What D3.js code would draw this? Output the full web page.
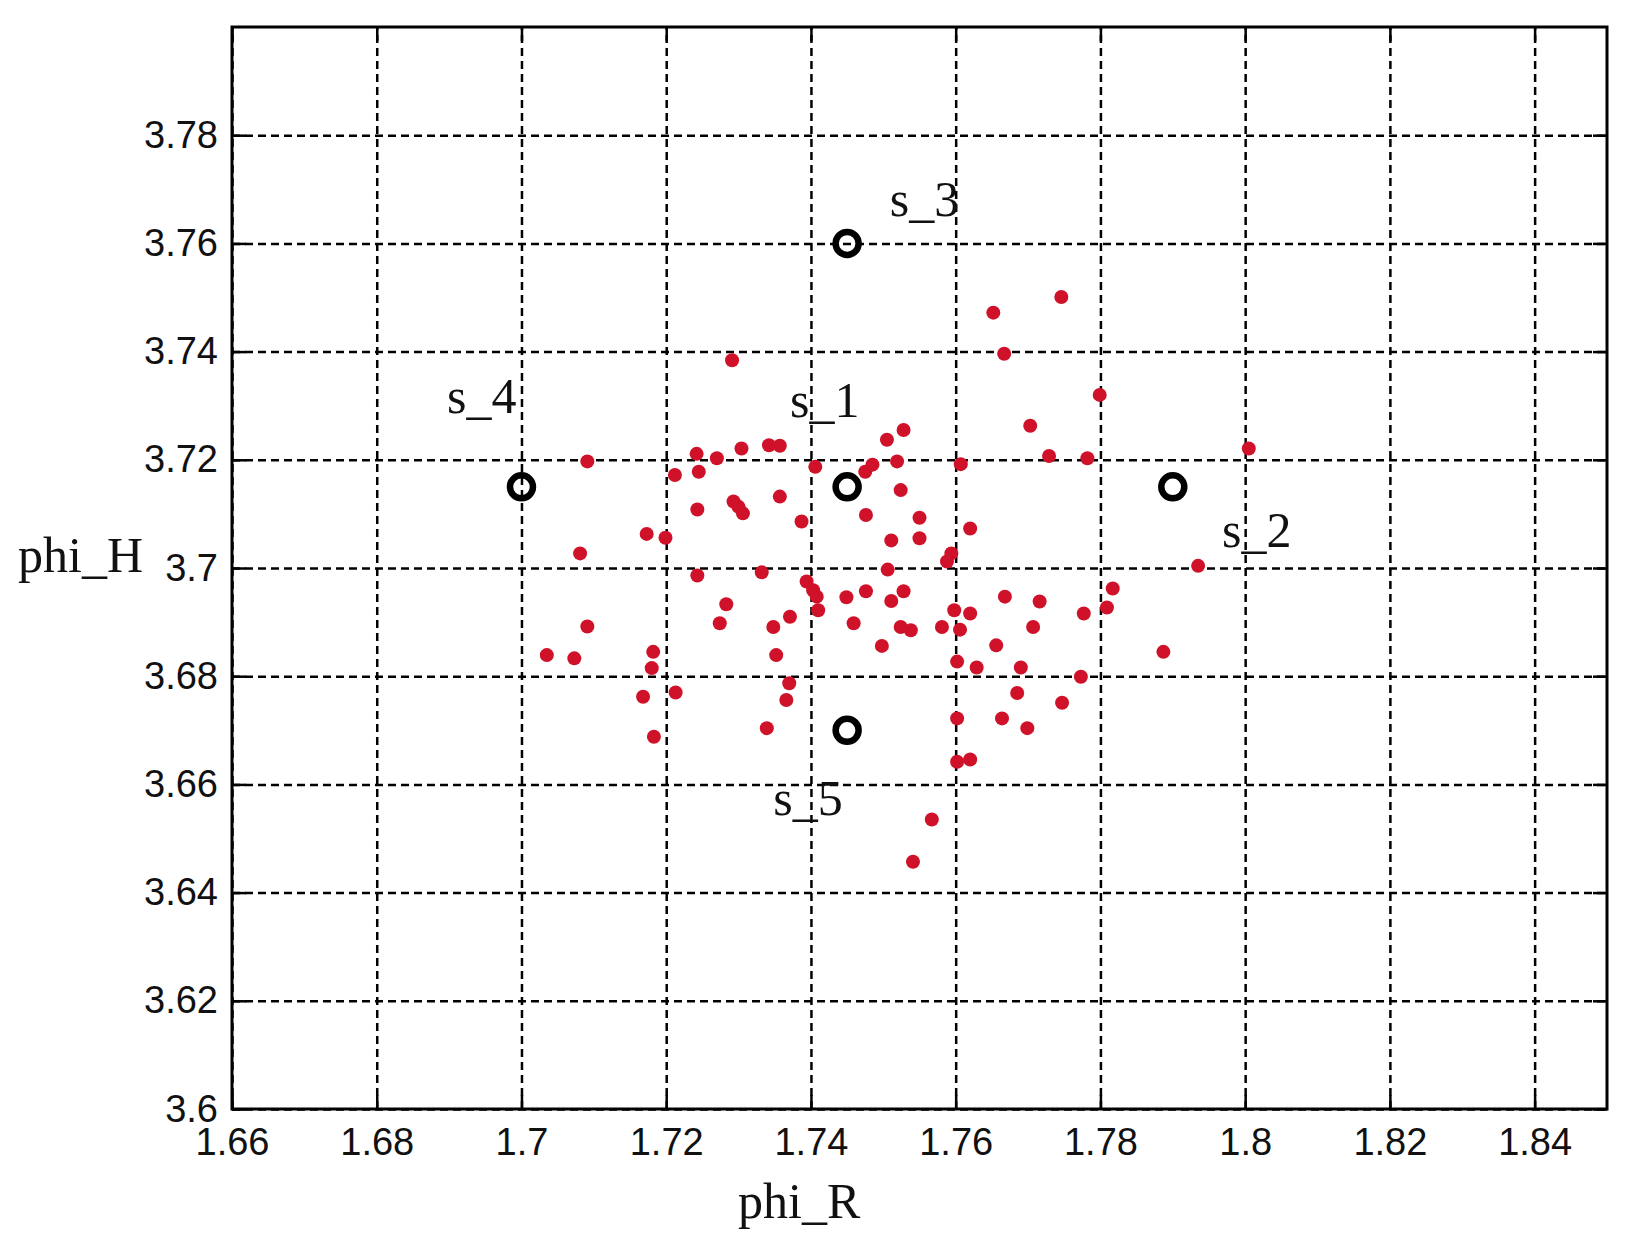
<!DOCTYPE html>
<html>
<head>
<meta charset="utf-8">
<script src="https://cdn.jsdelivr.net/npm/d3@7"></script>
<style>
  body { margin: 0; background: #fff; }
  .grid line { stroke: #000; stroke-width: 2.5; stroke-dasharray: 8,5; }
  .grid path { display: none; }
  .ticks line { stroke: #000; stroke-width: 2.5; }
  .ticks path { display: none; }
  .ticks text { font-family: "Liberation Sans", Arial, sans-serif; font-size: 38px; fill: #111; }
  .lbl { font-family: "Liberation Serif", "Times New Roman", serif; font-size: 50px; fill: #111; }
</style>
</head>
<body>
<div id="scatter"></div>
<script>
// page size, same as the picture
var svgWidth = 1637;
var svgHeight = 1255;

// margins so the box lands where the original one is
var margin = {
        top: 27,
        right: 30,
        bottom: 146,
        left: 232
    },
    width = svgWidth - margin.left - margin.right,
    height = svgHeight - margin.top - margin.bottom;

// the red cloud, phi_R on x and phi_H on y
var phiR = [1.7291, 1.7091, 1.7081, 1.7173, 1.7199, 1.7212, 1.7242, 1.7245, 1.7270, 1.7304,
    1.7342, 1.7357, 1.7243, 1.7293, 1.7300, 1.7306, 1.7357, 1.7387, 1.7406, 1.7475,
    1.7485, 1.7505, 1.7528, 1.7519, 1.7524, 1.7476, 1.7550, 1.7550, 1.7511, 1.7607,
    1.7620, 1.7594, 1.7588, 1.7652, 1.7667, 1.7506, 1.7243, 1.7332, 1.7394, 1.7403,
    1.7408, 1.7410, 1.7283, 1.7274, 1.7348, 1.7371, 1.7352, 1.7370, 1.7366, 1.7339,
    1.7449, 1.7476, 1.7459, 1.7511, 1.7528, 1.7524, 1.7538, 1.7498, 1.7581, 1.7598,
    1.7620, 1.7606, 1.7602, 1.7629, 1.7602, 1.7602, 1.7620, 1.7656, 1.7664, 1.7091,
    1.7035, 1.7073, 1.7182, 1.7180, 1.7168, 1.7213, 1.7183, 1.7567, 1.7541, 1.7746,
    1.7799, 1.7703, 1.7729, 1.7782, 1.8005, 1.7935, 1.7817, 1.7668, 1.7716, 1.7777,
    1.7809, 1.7707, 1.7690, 1.7773, 1.7887, 1.7685, 1.7747, 1.7699];
var phiH = [3.7384, 3.7197, 3.7027, 3.7063, 3.7056, 3.7172, 3.7211, 3.7178, 3.7203, 3.7221,
    3.7227, 3.7226, 3.7108, 3.7123, 3.7113, 3.7101, 3.7132, 3.7086, 3.7187, 3.7178,
    3.7191, 3.7237, 3.7255, 3.7197, 3.7144, 3.7098, 3.7093, 3.7055, 3.7051, 3.7192,
    3.7073, 3.7027, 3.7012, 3.7472, 3.7396, 3.6997, 3.6986, 3.6992, 3.6975, 3.6959,
    3.6947, 3.6922, 3.6933, 3.6898, 3.6891, 3.6910, 3.6839, 3.6787, 3.6756, 3.6704,
    3.6946, 3.6957, 3.6898, 3.6939, 3.6957, 3.6891, 3.6885, 3.6856, 3.6891, 3.6922,
    3.6916, 3.6886, 3.6827, 3.6816, 3.6722, 3.6642, 3.6646, 3.6857, 3.6722, 3.6892,
    3.6839, 3.6833, 3.6845, 3.6815, 3.6762, 3.6770, 3.6688, 3.6535, 3.6457, 3.7501,
    3.7320, 3.7263, 3.7207, 3.7203, 3.7221, 3.7004, 3.6962, 3.6947, 3.6938, 3.6916,
    3.6927, 3.6891, 3.6816, 3.6799, 3.6845, 3.6769, 3.6751, 3.6704];

// the five black reference points and their names
var sNames = ["s_1", "s_2", "s_3", "s_4", "s_5"];
var sR = [1.745, 1.79, 1.745, 1.70, 1.745];
var sH = [3.715, 3.715, 3.76, 3.715, 3.67];
// where each name sits (data units, left end of the baseline)
var sLabelR = [1.7371, 1.7968, 1.7509, 1.6897, 1.7348];
var sLabelH = [3.7279, 3.7039, 3.7651, 3.7287, 3.6543];

// ticks, last one of each axis has no label in the original
var xTicks = [1.66, 1.68, 1.70, 1.72, 1.74, 1.76, 1.78, 1.80, 1.82, 1.84];
var xTickLabels = ["1.66", "1.68", "1.7", "1.72", "1.74", "1.76", "1.78", "1.8", "1.82", "1.84"];
var yTicks = [3.60, 3.62, 3.64, 3.66, 3.68, 3.70, 3.72, 3.74, 3.76, 3.78];
var yTickLabels = ["3.6", "3.62", "3.64", "3.66", "3.68", "3.7", "3.72", "3.74", "3.76", "3.78"];

var chart = d3.select("#scatter")
    .append("svg")
    .attr("width", svgWidth)
    .attr("height", svgHeight)
    .append("g")
    .attr("transform", `translate(${margin.left}, ${margin.top})`);

var x = d3.scaleLinear().domain([1.66, 1.85]).range([0, width]);
var y = d3.scaleLinear().domain([3.60, 3.80]).range([height, 0]);

// dashed grid first so the dots go on top
chart.append("g")
    .attr("class", "grid")
    .attr("transform", `translate(0, ${height})`)
    .call(d3.axisBottom(x).tickValues(xTicks).tickSize(-height).tickFormat(""));
chart.append("g")
    .attr("class", "grid")
    .call(d3.axisLeft(y).tickValues(yTicks).tickSize(-width).tickFormat(""));

// inward ticks on all four sides, labels only bottom and left
chart.append("g")
    .attr("class", "ticks")
    .attr("transform", `translate(0, ${height})`)
    .call(d3.axisBottom(x).tickValues(xTicks).tickSizeInner(-14).tickSizeOuter(0)
        .tickPadding(19).tickFormat((d, i) => xTickLabels[i]));
chart.append("g")
    .attr("class", "ticks")
    .call(d3.axisLeft(y).tickValues(yTicks).tickSizeInner(-14).tickSizeOuter(0)
        .tickPadding(14).tickFormat((d, i) => yTickLabels[i]));
chart.append("g")
    .attr("class", "ticks")
    .call(d3.axisTop(x).tickValues(xTicks).tickSizeInner(-14).tickSizeOuter(0).tickFormat(""));
chart.append("g")
    .attr("class", "ticks")
    .attr("transform", `translate(${width}, 0)`)
    .call(d3.axisRight(y).tickValues(yTicks).tickSizeInner(-14).tickSizeOuter(0).tickFormat(""));

// the box
chart.append("rect")
    .attr("width", width)
    .attr("height", height)
    .attr("fill", "none")
    .attr("stroke", "#000")
    .attr("stroke-width", 3);

// red samples
chart.selectAll("circle.dot")
    .data(d3.range(phiR.length))
    .enter()
    .append("circle")
    .attr("class", "dot")
    .attr("cx", i => x(phiR[i]))
    .attr("cy", i => y(phiH[i]))
    .attr("r", 7)
    .attr("fill", "#cf1229");

// black rings
chart.selectAll("circle.ring")
    .data(d3.range(sNames.length))
    .enter()
    .append("circle")
    .attr("class", "ring")
    .attr("cx", i => x(sR[i]))
    .attr("cy", i => y(sH[i]))
    .attr("r", 11.5)
    .attr("fill", "none")
    .attr("stroke", "#000")
    .attr("stroke-width", 6.5);

chart.selectAll("text.sname")
    .data(d3.range(sNames.length))
    .enter()
    .append("text")
    .attr("class", "lbl sname")
    .attr("x", i => x(sLabelR[i]))
    .attr("y", i => y(sLabelH[i]))
    .text(i => sNames[i]);

// axis titles, the x one is not centred in the original either
chart.append("text")
    .attr("class", "lbl")
    .attr("x", 738 - margin.left)
    .attr("y", 1218 - margin.top)
    .text("phi_R");
chart.append("text")
    .attr("class", "lbl")
    .attr("x", 18 - margin.left)
    .attr("y", 572 - margin.top)
    .text("phi_H");
</script>
</body>
</html>
